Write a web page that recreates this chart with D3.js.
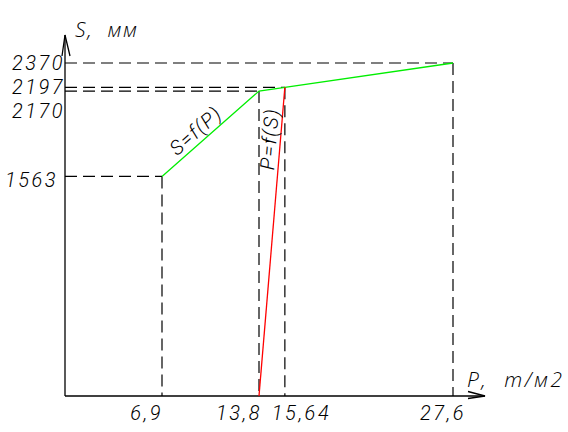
<!DOCTYPE html>
<html>
<head>
<meta charset="utf-8">
<script src="https://cdn.jsdelivr.net/npm/d3@7"></script>
<style>
  html, body { margin: 0; padding: 0; background: #fff; }
  svg text { font-family: Roboto, "Open Sans", sans-serif; font-style: italic; font-weight: 300; font-size: 20px; letter-spacing: 1.5px; fill: #000; }
  svg text.tick { letter-spacing: 2.5px; }
  svg text.title { font-family: "Open Sans", "Noto Sans", sans-serif; font-size: 21px; letter-spacing: 0; }
</style>
</head>
<body>
<svg id="chart" width="568" height="432"></svg>
<script>
// ---- data ----
const pTicks = [6.9, 13.8, 15.64, 27.6];
const pTickLabels = ["6,9", "13,8", "15,64", "27,6"];
const sTicks = [1563, 2170, 2197, 2370];
const sTickLabels = ["1563", "2170", "2197", "2370"];
// S = f(P) curve (green)
const curveSP_P = [6.9, 13.8, 15.64, 27.6];
const curveSP_S = [1563, 2170, 2197, 2370];
// P = f(S) curve (red)
const curvePS_P = [13.8, 15.64];
const curvePS_S = [0, 2197];
const xTitle = "P,  т/м2";
const yTitle = "S,  мм";

// ---- layout ----
const svg = d3.select("#chart");
const x = d3.scaleLinear().domain([0, 27.6]).range([65, 453]);
const y = d3.scaleLinear().domain([0, 2370]).range([396, 63]);
const axisTopY = 35, axisRightX = 485;
const xLabelLayout = [{a: "end", dx: 1}, {a: "end", dx: 3}, {a: "start", dx: -13}, {a: "end", dx: 13}];
const yLabelLayout = [{dx: -7, dy: 11}, {dx: 0, dy: 27}, {dx: 0, dy: 7}, {dx: 0, dy: 7}];
const labelBaselineY = 420;

// dashed guide lines
const guides = [];
curveSP_P.forEach((p, i) => {
  const s = curveSP_S[i];
  guides.push([[0, s], [p, s]]);
  guides.push([[p, s], [p, 0]]);
});
svg.append("g").selectAll("line").data(guides).join("line")
  .attr("x1", d => x(d[0][0])).attr("y1", d => y(d[0][1]))
  .attr("x2", d => x(d[1][0])).attr("y2", d => y(d[1][1]))
  .attr("stroke", "#000").attr("stroke-width", 1.2)
  .attr("stroke-dasharray", "12,6");

// axes
const axes = svg.append("g").attr("stroke", "#000").attr("stroke-width", 1.3).attr("fill", "none");
axes.append("line").attr("x1", x(0)).attr("y1", y(0)).attr("x2", x(0)).attr("y2", axisTopY);
axes.append("line").attr("x1", x(0)).attr("y1", y(0)).attr("x2", axisRightX).attr("y2", y(0));
axes.append("path").attr("d", `M${x(0) - 3},${axisTopY + 21} L${x(0)},${axisTopY} L${x(0) + 5},${axisTopY + 21}`);
axes.append("path").attr("d", `M${axisRightX - 17},${y(0) - 4.5} L${axisRightX},${y(0)} L${axisRightX - 17},${y(0) + 2.5}`);

// curves
const line = d3.line().x(d => x(d[0])).y(d => y(d[1]));
svg.append("path").datum(curveSP_P.map((p, i) => [p, curveSP_S[i]]))
  .attr("d", line).attr("fill", "none").attr("stroke", "#00ee00").attr("stroke-width", 1.3);
svg.append("path").datum(curvePS_P.map((p, i) => [p, curvePS_S[i]]))
  .attr("d", line).attr("fill", "none").attr("stroke", "#ff0000").attr("stroke-width", 1.3);

// tick labels
svg.append("g").selectAll("text").data(pTicks).join("text")
  .attr("class", "tick")
  .attr("x", (d, i) => x(d) + xLabelLayout[i].dx)
  .attr("y", labelBaselineY)
  .attr("text-anchor", (d, i) => xLabelLayout[i].a)
  .text((d, i) => pTickLabels[i]);
svg.append("g").selectAll("text").data(sTicks).join("text")
  .attr("class", "tick")
  .attr("x", (d, i) => x(0) + yLabelLayout[i].dx)
  .attr("y", (d, i) => y(d) + yLabelLayout[i].dy)
  .attr("text-anchor", "end")
  .text((d, i) => sTickLabels[i]);

// axis titles
svg.append("text").attr("class", "title").attr("x", x(0) + 10).attr("y", axisTopY + 2)
  .attr("textLength", 62).attr("lengthAdjust", "spacing").style("white-space", "pre").text(yTitle);
svg.append("text").attr("class", "title").attr("x", axisRightX - 18).attr("y", y(0) - 9)
  .attr("textLength", 95).attr("lengthAdjust", "spacing").style("white-space", "pre").text(xTitle);

// curve labels placed along segments
function segLabel(p0, p1, t, off, txt) {
  const X0 = x(p0[0]), Y0 = y(p0[1]), X1 = x(p1[0]), Y1 = y(p1[1]);
  const dx = X1 - X0, dy = Y1 - Y0, L = Math.hypot(dx, dy);
  const ux = dx / L, uy = dy / L;
  const px = X0 + dx * t + uy * off, py = Y0 + dy * t - ux * off;
  const ang = Math.atan2(dy, dx) * 180 / Math.PI;
  svg.append("text").attr("text-anchor", "middle")
    .attr("transform", `translate(${px},${py}) rotate(${ang})`).text(txt);
}
segLabel([curveSP_P[0], curveSP_S[0]], [curveSP_P[1], curveSP_S[1]], 0.43, 5, "S=f(P)");
segLabel([curvePS_P[0], curvePS_S[0]], [curvePS_P[1], curvePS_S[1]], 0.83, 4, "P=f(S)");
</script>
</body>
</html>
